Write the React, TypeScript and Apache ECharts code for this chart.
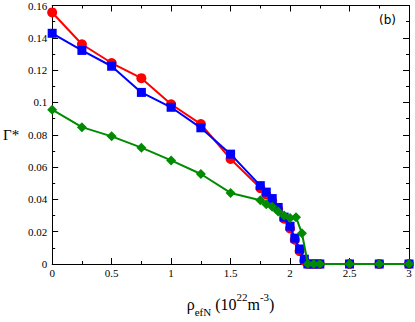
import React, { useEffect, useRef } from "react";
import * as echarts from "echarts";

const xRB = [0, 0.25, 0.5, 0.75, 1, 1.25, 1.5, 1.75, 1.8, 1.85, 1.9, 1.95, 2.0, 2.04, 2.08, 2.12, 2.15, 2.2, 2.25, 2.5, 2.75, 3];
const redVals = [0.1557, 0.136, 0.1244, 0.115, 0.0989, 0.0866, 0.065, 0.047, 0.043, 0.039, 0.034, 0.028, 0.022, 0.015, 0.008, 0.002, 0, 0, 0, 0, 0, 0];
const blueVals = [0.1428, 0.1322, 0.1224, 0.1062, 0.097, 0.0843, 0.068, 0.0485, 0.0445, 0.0405, 0.035, 0.029, 0.0234, 0.016, 0.0093, 0.003, 0, 0, 0, 0, 0, 0];
const xG = [0, 0.25, 0.5, 0.75, 1, 1.25, 1.5, 1.75, 1.8, 1.85, 1.9, 1.95, 2.0, 2.05, 2.1, 2.15, 2.2, 2.25, 2.5, 2.75, 3];
const greenVals = [0.0955, 0.0847, 0.079, 0.072, 0.0641, 0.0557, 0.044, 0.0395, 0.037, 0.0355, 0.0325, 0.03, 0.0285, 0.029, 0.019, 0, 0, 0, 0, 0, 0];

const xTickLabels: Record<string, string> = { "0": "0", "0.5": "0.5", "1": "1", "1.5": "1.5", "2": "2", "2.5": "2.5", "3": "3" };

const SERIF = "'Liberation Serif', 'DejaVu Serif', serif";

export default function App() {
  const ref = useRef<HTMLDivElement>(null);
  useEffect(() => {
    if (!ref.current) return;
    const chart = echarts.init(ref.current, undefined, { renderer: "svg" });
    const pairs = (xs: number[], ys: number[]) => xs.map((x, i) => [x, ys[i]]);
    const axisCommon = {
      axisLine: { show: true, onZero: false, lineStyle: { color: "#000", width: 1 } },
      axisTick: { show: true, inside: true, length: 6, lineStyle: { color: "#000" } },
      minorTick: { show: true, splitNumber: 2, length: 3, lineStyle: { color: "#000" } },
      splitLine: { show: false },
      minorSplitLine: { show: false },
    };
    chart.setOption({
      animation: false,
      grid: { left: 43, right: 6, top: 5, bottom: 44, containLabel: false },
      xAxis: [
        {
          type: "value",
          min: 0,
          max: 3,
          interval: 0.5,
          position: "bottom",
          ...axisCommon,
          axisLabel: {
            show: true,
            margin: 3,
            color: "#000",
            fontFamily: SERIF,
            fontSize: 11,
            formatter: (v: number) => xTickLabels[String(v)] ?? String(v),
          },
          name: "{r|ρ}{s|efN}{r| (10}{p|22}{r|m}{p|-3}{r|)}",
          nameLocation: "middle",
          nameGap: 27,
          nameTextStyle: {
            color: "#000",
            fontFamily: SERIF,
            rich: {
              r: { fontSize: 16, fontFamily: SERIF, color: "#000", lineHeight: 26, verticalAlign: "middle" },
              s: { fontSize: 11, fontFamily: SERIF, color: "#000", lineHeight: 26, verticalAlign: "bottom", padding: [0, 0, 0, 0] },
              p: { fontSize: 11, fontFamily: SERIF, color: "#000", lineHeight: 26, verticalAlign: "top" },
            },
          },
        },
        {
          type: "value",
          min: 0,
          max: 3,
          interval: 0.5,
          position: "top",
          ...axisCommon,
          axisLabel: { show: false },
        },
      ],
      yAxis: [
        {
          type: "value",
          min: 0,
          max: 0.16,
          interval: 0.02,
          position: "left",
          ...axisCommon,
          axisLabel: {
            show: true,
            margin: 5,
            color: "#000",
            fontFamily: SERIF,
            fontSize: 11,
            formatter: (v: number) => String(parseFloat(v.toFixed(2))),
          },
          name: "Γ*",
          nameLocation: "middle",
          nameRotate: 0,
          nameGap: 33,
          nameTextStyle: { color: "#000", fontFamily: SERIF, fontSize: 15 },
        },
        {
          type: "value",
          min: 0,
          max: 0.16,
          interval: 0.02,
          position: "right",
          ...axisCommon,
          axisLabel: { show: false },
        },
      ],
      graphic: [
        {
          type: "text",
          left: 379,
          top: 14,
          style: { text: "(b)", fontSize: 12, fontFamily: "'DejaVu Sans', sans-serif", fill: "#000" },
        },
      ],
      series: [
        {
          type: "line",
          data: pairs(xRB, redVals),
          color: "#ff0000",
          symbol: "circle",
          symbolSize: 10,
          lineStyle: { width: 2, color: "#ff0000" },
          itemStyle: { color: "#ff0000" },
          z: 2,
        },
        {
          type: "line",
          data: pairs(xRB, blueVals),
          color: "#0000ff",
          symbol: "rect",
          symbolSize: 9,
          lineStyle: { width: 2, color: "#0000ff" },
          itemStyle: { color: "#0000ff" },
          z: 3,
        },
        {
          type: "line",
          data: pairs(xG, greenVals),
          color: "#008b00",
          symbol: "diamond",
          symbolSize: 10,
          lineStyle: { width: 2, color: "#008b00" },
          itemStyle: { color: "#008b00" },
          z: 4,
        },
      ],
    });
    return () => chart.dispose();
  }, []);
  return <div ref={ref} style={{ width: 415, height: 322, position: "absolute", left: 0, top: 0 }} />;
}
